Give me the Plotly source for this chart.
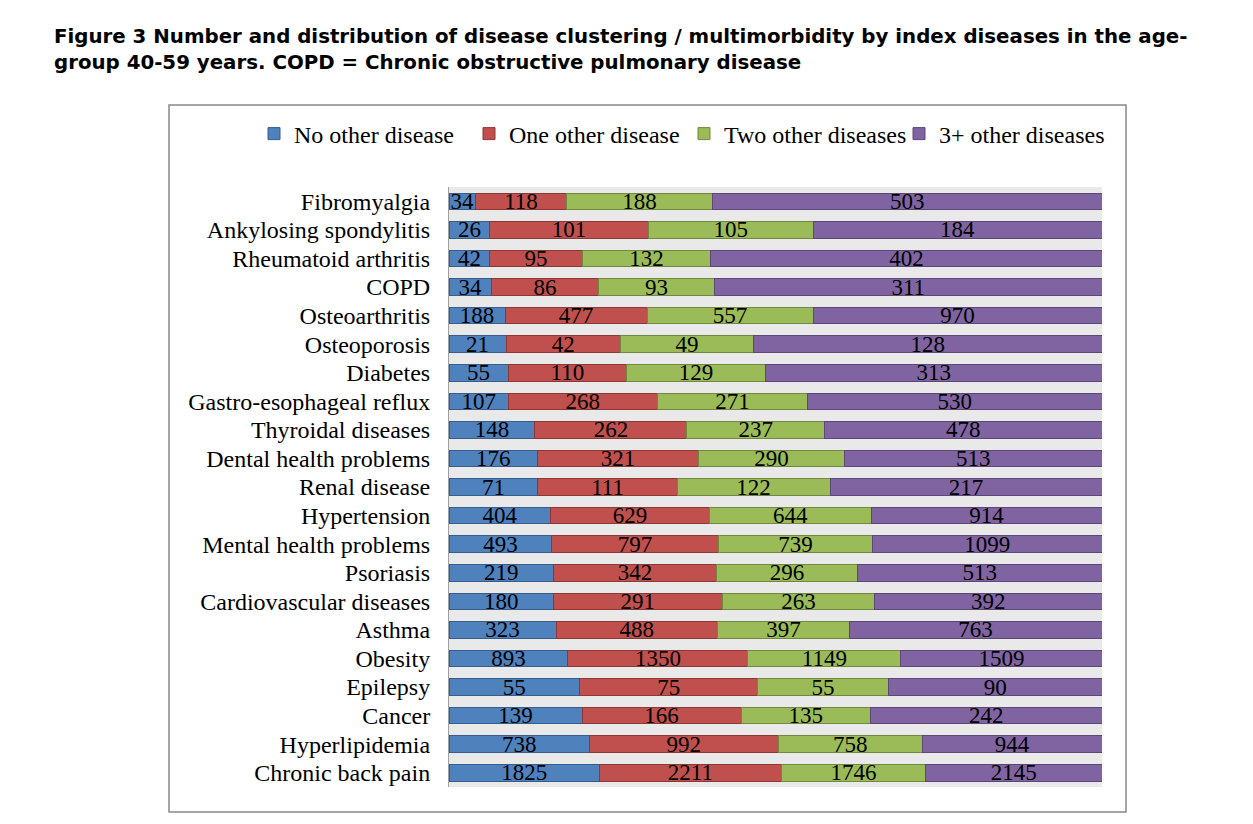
import plotly.graph_objects as go

categories = ["Fibromyalgia", "Ankylosing spondylitis", "Rheumatoid arthritis", "COPD",
              "Osteoarthritis", "Osteoporosis", "Diabetes", "Gastro-esophageal reflux",
              "Thyroidal diseases", "Dental health problems", "Renal disease", "Hypertension",
              "Mental health problems", "Psoriasis", "Cardiovascular diseases", "Asthma",
              "Obesity", "Epilepsy", "Cancer", "Hyperlipidemia", "Chronic back pain"]

no_other = [34, 26, 42, 34, 188, 21, 55, 107, 148, 176, 71, 404, 493, 219, 180, 323, 893, 55, 139, 738, 1825]
one_other = [118, 101, 95, 86, 477, 42, 110, 268, 262, 321, 111, 629, 797, 342, 291, 488, 1350, 75, 166, 992, 2211]
two_other = [188, 105, 132, 93, 557, 49, 129, 271, 237, 290, 122, 644, 739, 296, 263, 397, 1149, 55, 135, 758, 1746]
three_plus = [503, 184, 402, 311, 970, 128, 313, 530, 478, 513, 217, 914, 1099, 513, 392, 763, 1509, 90, 242, 944, 2145]

series_names = ["No other disease", "One other disease", "Two other diseases", "3+ other diseases"]
series_values = [no_other, one_other, two_other, three_plus]
fill_colors = ["#4f81bd", "#c0504d", "#9bbb59", "#8064a2"]
line_colors = ["#385d8a", "#8c3836", "#71893f", "#5c4776"]

SERIF = "Liberation Serif"
TITLE = ("<b>Figure 3 Number and distribution of disease clustering / multimorbidity by index diseases in the age-"
         "<br>group 40-59 years. COPD = Chronic obstructive pulmonary disease</b>")

fig = go.Figure()
for name, vals, fc, lc in zip(series_names, series_values, fill_colors, line_colors):
    fig.add_trace(go.Bar(
        y=categories, x=vals, name=name, orientation="h",
        text=[str(v) for v in vals], texttemplate="%{text}",
        textposition="inside", insidetextanchor="middle", textangle=0,
        textfont=dict(family=SERIF, size=23, color="black"),
        marker=dict(color=fc, line=dict(color=lc, width=1)),
        hoverinfo="skip",
    ))

# page body has an 8px margin; work in figure coordinates = page - 8
OFF = 8
W, H = 1253 - OFF, 824 - OFF
L, R, T, B = 449 - OFF, 1102 - OFF, 187 - OFF, 787 - OFF
pw, ph = R - L, B - T

def px_x(p):
    return (p - OFF - L) / pw

def px_y(p):
    return (B - (p - OFF)) / ph

fig.update_layout(
    width=W, height=H,
    barmode="stack", barnorm="percent", bargap=0.42,
    margin=dict(l=L, r=W - R, t=T, b=H - B, autoexpand=False),
    paper_bgcolor="white", plot_bgcolor="#e9e9e9",
    uniformtext=dict(minsize=23, mode="show"),
    showlegend=True,
    legend=dict(orientation="h", xref="paper", x=px_x(254), xanchor="left",
                y=px_y(134), yanchor="middle", entrywidth=170, entrywidthmode="pixels",
                font=dict(family=SERIF, size=24, color="black"), bgcolor="rgba(0,0,0,0)",
                traceorder="normal"),
    xaxis=dict(range=[0, 100], showticklabels=False, showgrid=False, zeroline=False,
               showline=False, ticks=""),
    yaxis=dict(autorange="reversed", showgrid=False, zeroline=False, showline=True,
               linecolor="#a0a0a0", linewidth=1, ticks="", ticklabelstandoff=13,
               tickmode="array", tickvals=categories, ticktext=categories,
               tickfont=dict(family=SERIF, size=24, color="black")),
    shapes=[dict(type="rect", xref="paper", yref="paper",
                 x0=px_x(169), x1=px_x(1126), y0=px_y(812), y1=px_y(105),
                 line=dict(color="#888888", width=1.5), fillcolor="rgba(0,0,0,0)", layer="below")],
    annotations=[dict(text=TITLE, xref="paper", yref="paper", x=px_x(52), y=px_y(49.5),
                      xanchor="left", yanchor="middle", align="left", showarrow=False,
                      font=dict(family="DejaVu Sans", size=19.8, color="black"))],
)

fig.write_html("out.html")
